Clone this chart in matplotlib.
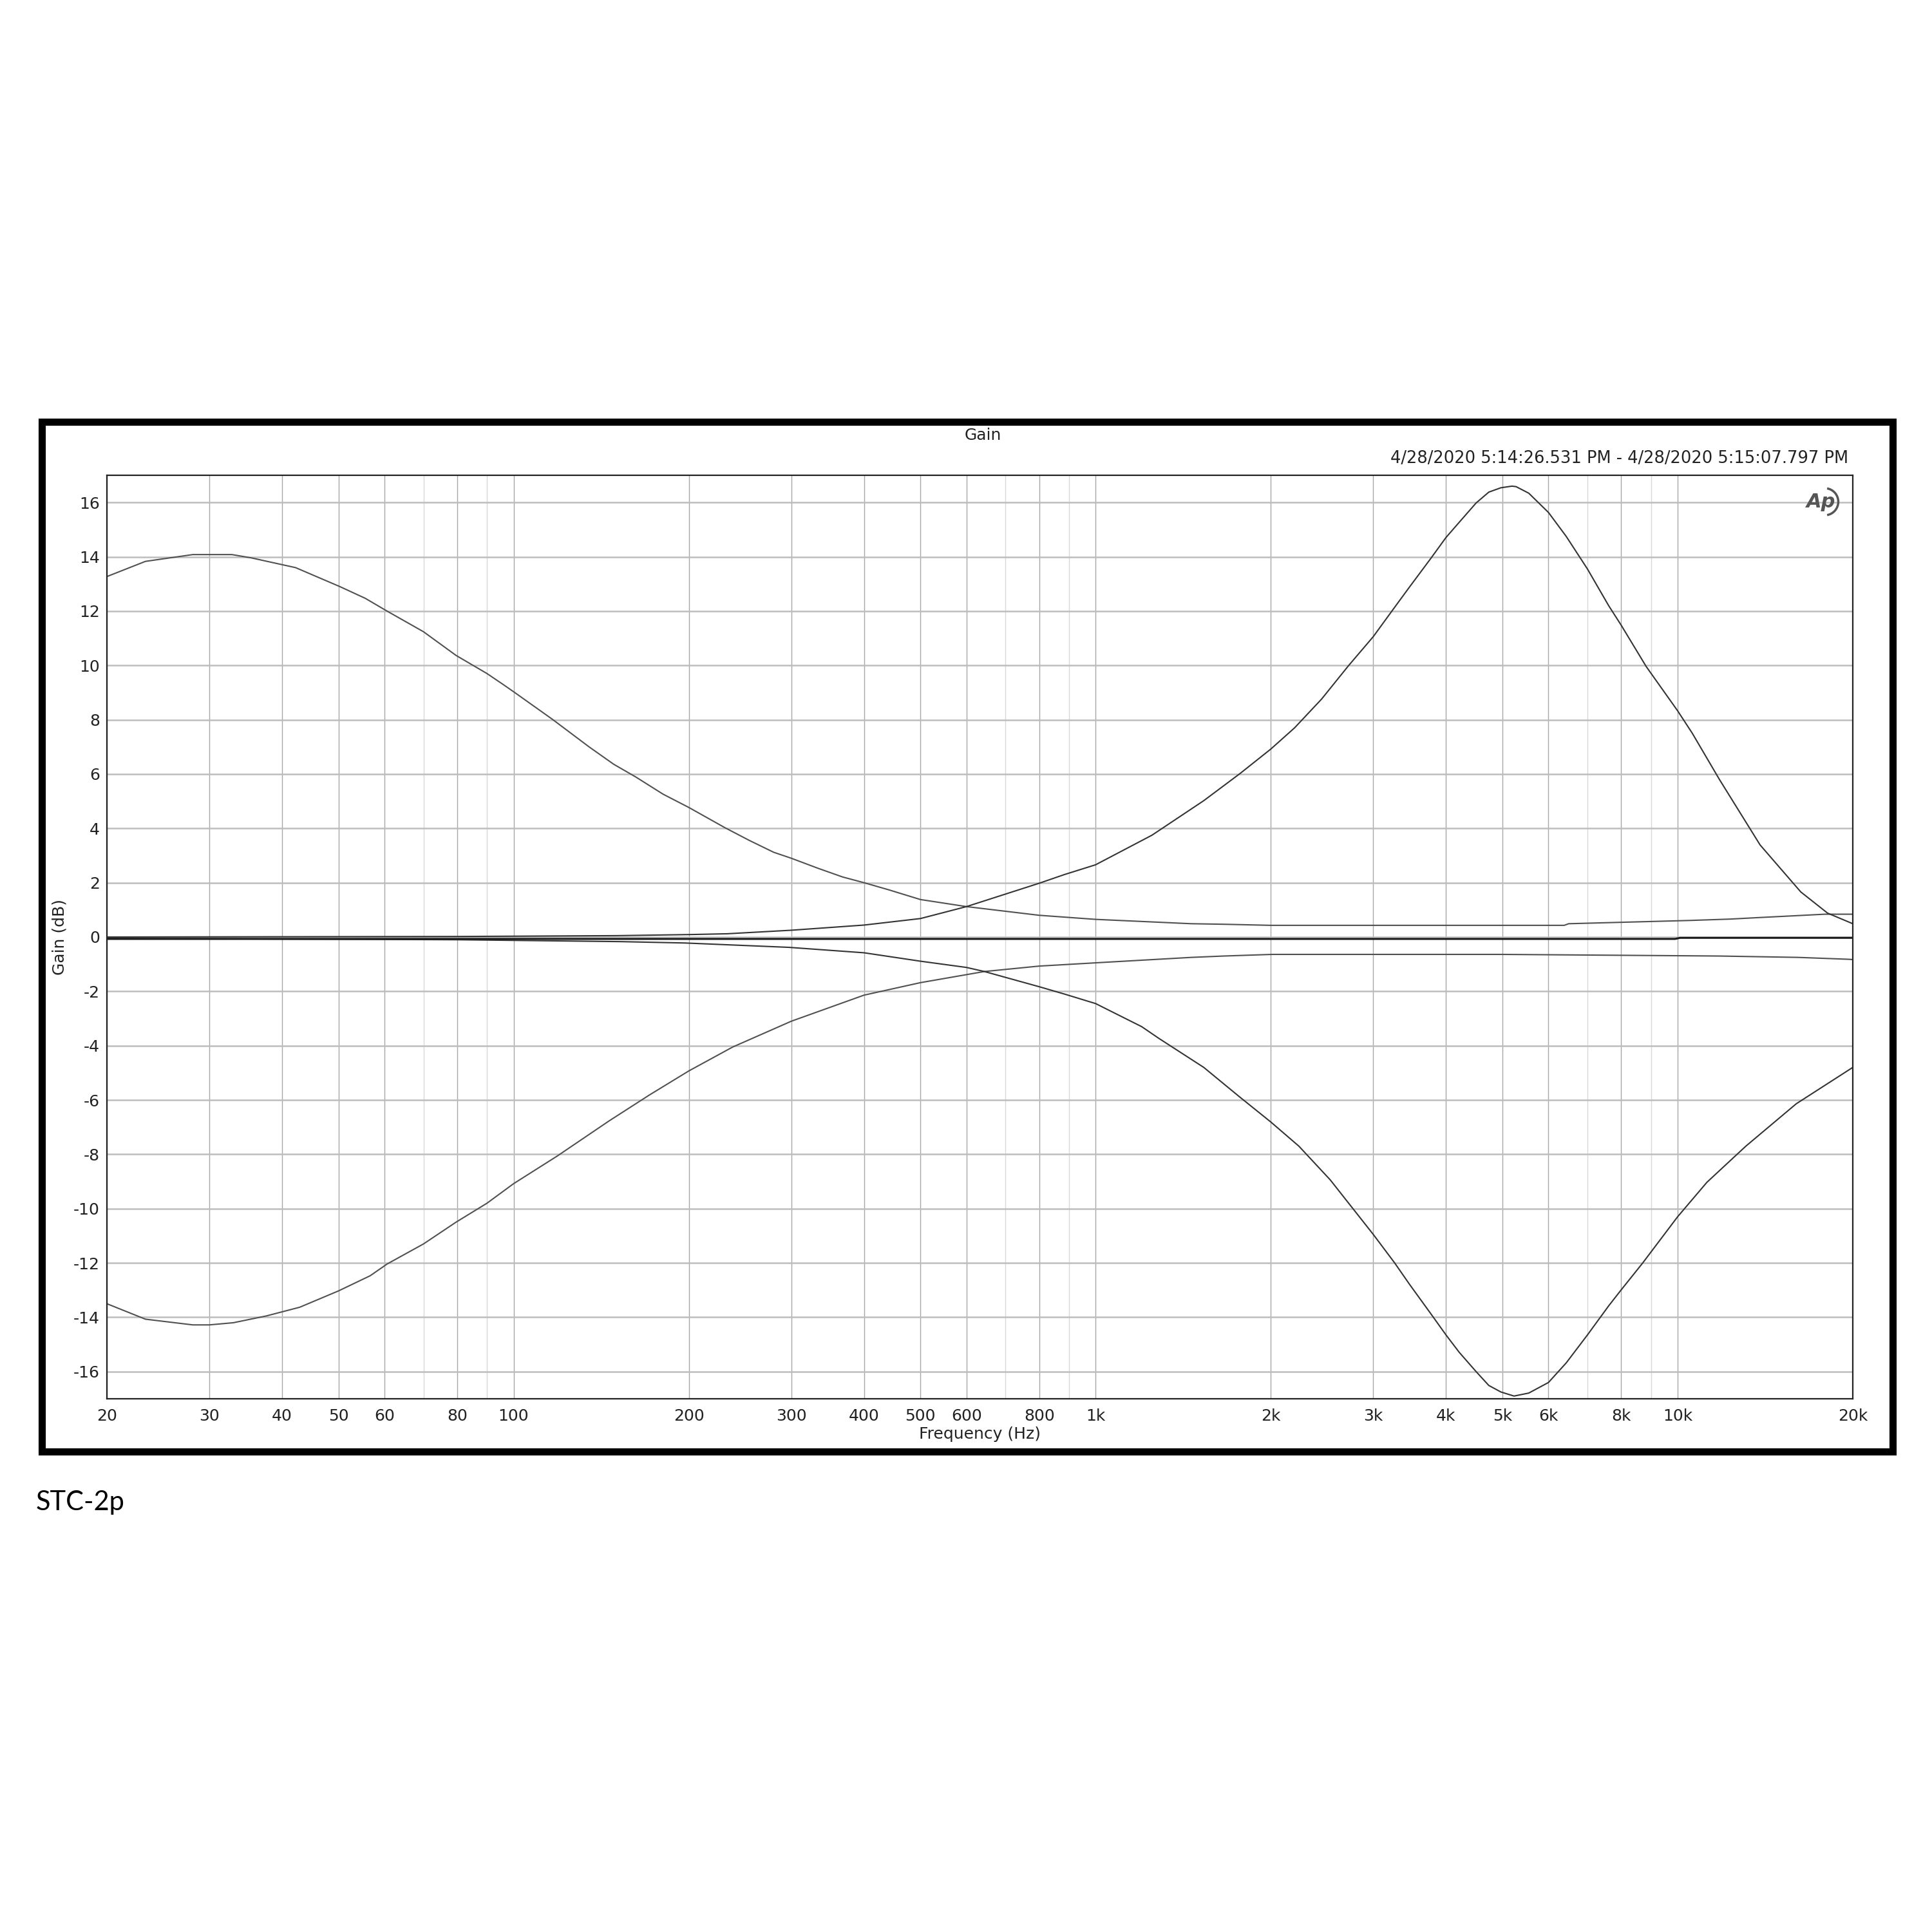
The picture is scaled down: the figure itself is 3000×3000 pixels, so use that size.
import matplotlib
matplotlib.use("Agg")
import matplotlib.pyplot as plt
from matplotlib.patches import Rectangle, Arc

# Frequency response data (Hz, dB)
bass_boost_f = [20, 23.3, 28.1, 32.8, 35.4, 42.2, 50.3, 55.6, 60.6, 70, 79.6, 90, 95.9, 100,
                116.5, 134.8, 148.6, 162.2, 180.6, 200, 230.5, 253.9, 279.8, 300, 333.5, 367.6,
                400, 440.8, 500, 600, 800, 1000, 1460, 1659, 2000, 3000, 5000, 6384, 6500,
                8600, 10500, 12300, 13900, 15800, 17900, 20000]
bass_boost_db = [13.27, 13.83, 14.08, 14.08, 13.96, 13.6, 12.9, 12.47, 12.0, 11.24, 10.37, 9.7, 9.3, 9.03,
                 8.02, 7.0, 6.36, 5.89, 5.26, 4.77, 4.03, 3.56, 3.12, 2.9, 2.53, 2.21,
                 2.0, 1.74, 1.38, 1.12, 0.8, 0.65, 0.49, 0.47, 0.43, 0.43, 0.43, 0.43, 0.49,
                 0.56, 0.61, 0.66, 0.72, 0.78, 0.84, 0.84]

bass_cut_f = [20, 23.3, 28.1, 30, 33, 37.6, 42.9, 50, 56.7, 60.6, 70, 79.6, 90, 100,
              118.9, 145.9, 171, 200, 237.9, 300, 400, 500, 644, 800, 1000, 1460, 1659,
              2009, 5000, 11800, 16100, 19700, 20000]
bass_cut_db = [-13.5, -14.07, -14.28, -14.28, -14.2, -13.95, -13.63, -13.03, -12.47, -12.04, -11.3, -10.5, -9.8, -9.08,
               -8.06, -6.77, -5.82, -4.93, -4.05, -3.1, -2.14, -1.68, -1.27, -1.07, -0.95, -0.75, -0.70,
               -0.64, -0.64, -0.70, -0.75, -0.82, -0.83]

treble_boost_f = [20, 80, 150, 200, 232.8, 300, 400, 500, 600, 800, 884, 1000, 1250, 1534, 1771, 2000,
                  2197, 2445, 2720, 3000, 3280, 3466, 3770, 4000, 4215, 4506, 4738, 4970,
                  5193, 5280, 5550, 6000, 6436, 7000, 7613, 8000, 8831, 10000, 10600, 11800,
                  13860, 16280, 18100, 20000]
treble_boost_db = [0.0, 0.02, 0.05, 0.09, 0.12, 0.25, 0.44, 0.68, 1.12, 1.98, 2.3, 2.66, 3.75, 5.02, 6.02, 6.92,
                   7.7, 8.76, 9.99, 11.06, 12.2, 12.9, 13.95, 14.71, 15.27, 15.98, 16.38, 16.54,
                   16.6, 16.58, 16.34, 15.63, 14.75, 13.55, 12.2, 11.48, 9.96, 8.33, 7.5, 5.8,
                   3.39, 1.66, 0.88, 0.49]

treble_cut_f = [20, 80, 153, 197, 297, 400, 500, 600, 644, 800, 884, 1000, 1200, 1284, 1534, 1771,
                2000, 2235, 2530, 3000, 3265, 3466, 3770, 4000, 4215, 4506, 4738, 4970,
                5235, 5550, 6000, 6436, 7000, 7613, 8000, 8711, 10000, 11230, 13100, 15990, 20000]
treble_cut_db = [-0.05, -0.1, -0.17, -0.22, -0.38, -0.58, -0.89, -1.12, -1.27, -1.83, -2.1, -2.45, -3.3, -3.73, -4.8, -5.9,
                 -6.81, -7.7, -8.94, -10.95, -12.0, -12.8, -13.88, -14.65, -15.29, -16.0, -16.51, -16.75,
                 -16.9, -16.79, -16.4, -15.68, -14.65, -13.58, -12.99, -12.0, -10.3, -9.03, -7.7, -6.14, -4.8]

flat_f = [20, 9900, 10100, 20000]
flat_db = [-0.07, -0.07, -0.03, -0.03]

x_ticks = [20, 30, 40, 50, 60, 80, 100, 200, 300, 400, 500, 600, 800, 1000,
           2000, 3000, 4000, 5000, 6000, 8000, 10000, 20000]
x_tick_labels = ["20", "30", "40", "50", "60", "80", "100", "200", "300", "400", "500", "600", "800", "1k",
                 "2k", "3k", "4k", "5k", "6k", "8k", "10k", "20k"]
x_minor = [70, 90, 700, 900, 7000, 9000]
y_ticks = list(range(-16, 17, 2))

plt.rcParams['font.family'] = ['DejaVu Sans']

fig = plt.figure(figsize=(30, 30), dpi=100)
ax = fig.add_axes([0.0553, 0.276, 0.9037, 0.478])

ax.plot(bass_boost_f, bass_boost_db, color='#505050', lw=1.5)
ax.plot(bass_cut_f, bass_cut_db, color='#505050', lw=1.5)
ax.plot(treble_boost_f, treble_boost_db, color='#333333', lw=1.5)
ax.plot(treble_cut_f, treble_cut_db, color='#333333', lw=1.5)
ax.plot(flat_f, flat_db, color='#1a1a1a', lw=2.2)

ax.set_xscale('log')
ax.set_xlim(20, 20000)
ax.set_ylim(-17, 17)
ax.set_xticks(x_ticks)
ax.set_xticklabels(x_tick_labels)
ax.set_xticks(x_minor, minor=True)
ax.set_xticklabels([], minor=True)
ax.set_yticks(y_ticks)
ax.set_yticklabels([str(v) for v in y_ticks])

ax.tick_params(axis='both', which='both', length=0, labelsize=18, colors='#222222')
ax.tick_params(axis='x', pad=11)
ax.tick_params(axis='y', pad=8)

ax.xaxis.grid(True, which='major', color='#a6a6a6', lw=1.0)
ax.xaxis.grid(True, which='minor', color='#d8d8d8', lw=1.0)
ax.yaxis.grid(True, which='major', color='#bdbdbd', lw=1.8)
ax.set_axisbelow(True)
for sp in ax.spines.values():
    sp.set_color('#222222')
    sp.set_linewidth(1.6)

ax.set_xlabel('Frequency (Hz)', fontsize=18, color='#222222')
ax.xaxis.set_label_coords(0.5, -0.030)
ax.xaxis.label.set_va('top')
ax.set_ylabel('Gain (dB)', fontsize=18, color='#222222')
ax.yaxis.set_label_coords(-0.027, 0.5)
ax.yaxis.label.set_va('center')

# titles above the plot
fig.text(0.5087, 0.7747, 'Gain', fontsize=18, ha='center', va='center', color='#222222')
fig.text(0.9567, 0.7627, '4/28/2020 5:14:26.531 PM - 4/28/2020 5:15:07.797 PM',
         fontsize=18.5, ha='right', va='center', color='#222222')

# AP logo
fig.text(0.9425, 0.7403, 'Ap', fontsize=22, style='italic', weight='bold',
         ha='center', va='center', color='#555555')
fig.patches.append(Arc((0.9445, 0.7403), 0.014, 0.014, theta1=-80, theta2=80,
                       transform=fig.transFigure, color='#555555', lw=2.5))

# heavy outer frame
fig.patches.append(Rectangle((0.0215, 0.2488), 0.9580, 0.5330, transform=fig.transFigure,
                             fill=False, edgecolor='black', lw=8))

fig.text(0.0187, 0.2183, 'STC-2p', fontsize=30, family='Lato', ha='left', va='baseline', color='black')

fig.savefig('out.png', dpi=100, facecolor='white')
